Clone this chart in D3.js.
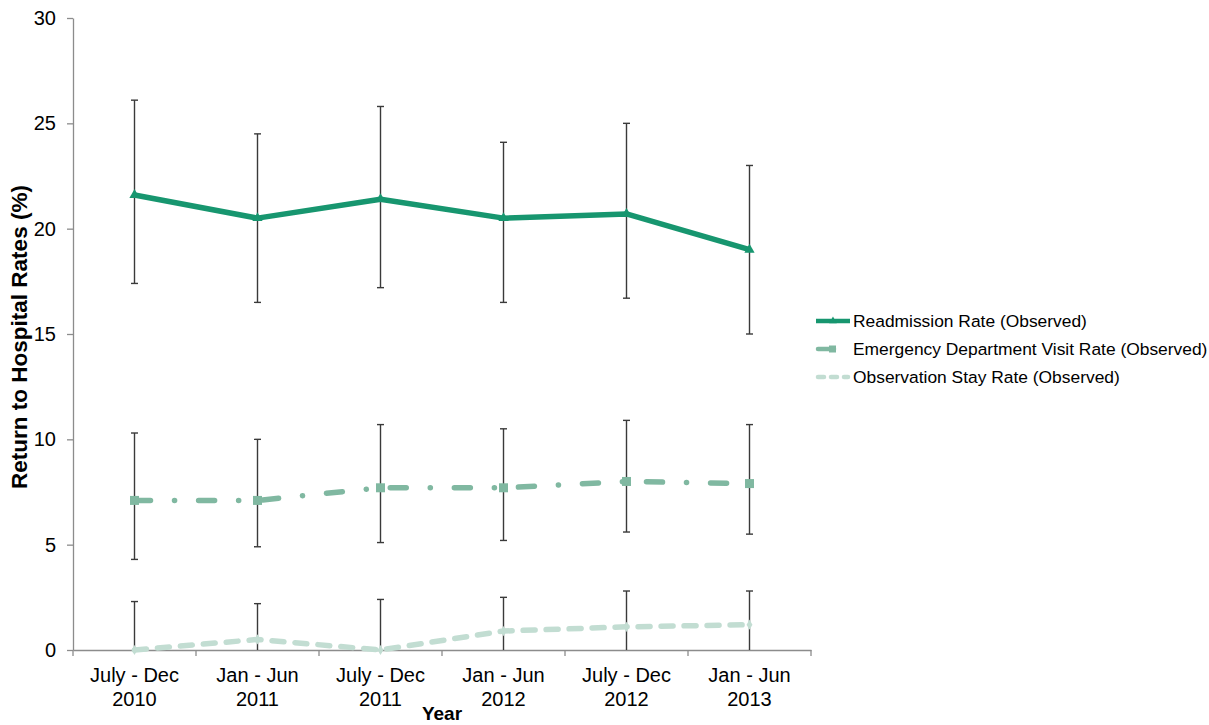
<!DOCTYPE html>
<html><head><meta charset="utf-8">
<script src="https://cdn.jsdelivr.net/npm/d3@7"></script>
<style>body{margin:0;background:#fff;} text{font-family:"Liberation Sans",Arial,sans-serif;}</style>
</head><body>
<svg id="c" width="1209" height="725"></svg>
<script>
const categories = ["July - Dec|2010","Jan - Jun|2011","July - Dec|2011","Jan - Jun|2012","July - Dec|2012","Jan - Jun|2013"];
const readmission = [21.6,20.5,21.4,20.5,20.7,19.0];
const readmissionHi = [26.1,24.5,25.8,24.1,25.0,23.0];
const readmissionLo = [17.4,16.5,17.2,16.5,16.7,15.0];
const edVisit = [7.1,7.1,7.7,7.7,8.0,7.9];
const edHi = [10.3,10.0,10.7,10.5,10.9,10.7];
const edLo = [4.3,4.9,5.1,5.2,5.6,5.5];
const observation = [0.0,0.5,0.0,0.9,1.1,1.2];
const obsHi = [2.3,2.2,2.4,2.5,2.8,2.8];
const obsLo = [0,0,0,0,0,0];
const yTicks = [0,5,10,15,20,25,30];
const seriesNames = ["Readmission Rate (Observed)","Emergency Department Visit Rate (Observed)","Observation Stay Rate (Observed)"];

(function(){
const svg = d3.select("#c");
const mLeft = 73, mRight = 811, mTop = 18, mBottom = 650;
const x = d3.scaleBand().domain(categories).range([mLeft, mRight]);
const y = d3.scaleLinear().domain([0,30]).range([mBottom, mTop]);
const cx = d => x(d) + x.bandwidth()/2;
const axisColor = "#8c8c8c";

// Y axis
const ya = svg.append("g").attr("transform",`translate(${mLeft},0)`)
  .call(d3.axisLeft(y).tickValues(yTicks).tickSize(6).tickSizeOuter(0));
ya.select(".domain").attr("stroke",axisColor).attr("stroke-width",1.3);
ya.selectAll(".tick line").attr("stroke",axisColor).attr("stroke-width",1.3);
ya.selectAll(".tick text").attr("font-size",20).attr("fill","#000").attr("x",-17)
  .attr("font-family","Liberation Sans, Arial, sans-serif");

// X axis
const xa = svg.append("g").attr("transform",`translate(0,${mBottom})`)
  .call(d3.axisBottom(x).tickSize(0).tickFormat(""));
xa.select(".domain").attr("stroke",axisColor).attr("stroke-width",1.3);
const bounds = categories.map(c=>x(c)).concat([mRight]);
svg.append("g").selectAll("line").data(bounds).join("line")
  .attr("x1",d=>d).attr("x2",d=>d).attr("y1",mBottom).attr("y2",mBottom+6)
  .attr("stroke",axisColor).attr("stroke-width",1.3);
const lbl = svg.append("g").selectAll("text").data(categories).join("text")
  .attr("x",d=>cx(d)).attr("y",682).attr("text-anchor","middle")
  .attr("font-size",20).attr("fill","#000");
lbl.each(function(d){
  const parts = d.split("|");
  const t = d3.select(this);
  t.append("tspan").attr("x",cx(d)).attr("dy",0).text(parts[0]);
  t.append("tspan").attr("x",cx(d)).attr("dy",23.5).text(parts[1]);
});

// titles
svg.append("text").attr("x",442).attr("y",720).attr("text-anchor","middle")
  .attr("font-size",19).attr("font-weight","bold").text("Year");
svg.append("text").attr("transform",`translate(27,337) rotate(-90)`)
  .attr("text-anchor","middle").attr("font-size",22.5).attr("font-weight","bold")
  .text("Return to Hospital Rates (%)");

// error bars
function errBars(hi, lo){
  const g = svg.append("g").attr("stroke","#3a3a3a").attr("stroke-width",1.4);
  categories.forEach((c,i)=>{
    g.append("line").attr("x1",cx(c)).attr("x2",cx(c)).attr("y1",y(hi[i])).attr("y2",y(lo[i]));
    g.append("line").attr("x1",cx(c)-3.5).attr("x2",cx(c)+3.5).attr("y1",y(hi[i])).attr("y2",y(hi[i]));
    if (lo[i] > 0) g.append("line").attr("x1",cx(c)-3.5).attr("x2",cx(c)+3.5).attr("y1",y(lo[i])).attr("y2",y(lo[i]));
  });
}
errBars(readmissionHi, readmissionLo);
errBars(edHi, edLo);
errBars(obsHi, obsLo);

const line = d3.line().x((d,i)=>cx(categories[i])).y(d=>y(d));
const colors = ["#17966f","#80b8a1","#c2ddd2"];

svg.append("path").datum(observation).attr("d",line).attr("fill","none")
  .attr("stroke",colors[2]).attr("stroke-width",5.5).attr("stroke-linecap","round")
  .attr("stroke-dasharray","12 11");
svg.append("path").datum(edVisit).attr("d",line).attr("fill","none")
  .attr("stroke",colors[1]).attr("stroke-width",5.5).attr("stroke-linecap","round")
  .attr("stroke-dasharray","16 24 0.1 24");
svg.append("path").datum(readmission).attr("d",line).attr("fill","none")
  .attr("stroke",colors[0]).attr("stroke-width",5.5).attr("stroke-linejoin","round");

svg.append("g").selectAll("path").data(readmission).join("path")
  .attr("transform",(d,i)=>`translate(${cx(categories[i])},${y(d)})`)
  .attr("d",d3.symbol(d3.symbolTriangle,45)()).attr("fill",colors[0]);
svg.append("g").selectAll("rect").data(edVisit).join("rect")
  .attr("x",(d,i)=>cx(categories[i])-4.5).attr("y",d=>y(d)-4.5).attr("width",9).attr("height",9)
  .attr("fill",colors[1]);
svg.append("g").selectAll("path").data(observation).join("path")
  .attr("transform",(d,i)=>`translate(${cx(categories[i])},${y(d)})`)
  .attr("d",d3.symbol(d3.symbolDiamond,30)()).attr("fill",colors[2]);

// legend
const lg = svg.append("g");
const ly = [321,349,377];
lg.append("line").attr("x1",816).attr("x2",850).attr("y1",ly[0]).attr("y2",ly[0])
  .attr("stroke",colors[0]).attr("stroke-width",4.5);
lg.append("path").attr("transform",`translate(833,${ly[0]})`).attr("d",d3.symbol(d3.symbolTriangle,25)()).attr("fill",colors[0]);
lg.append("line").attr("x1",818).attr("x2",834).attr("y1",ly[1]).attr("y2",ly[1])
  .attr("stroke",colors[1]).attr("stroke-width",4.5).attr("stroke-linecap","round");
lg.append("rect").attr("x",829).attr("y",ly[1]-3.5).attr("width",7).attr("height",7).attr("fill",colors[1]);
lg.append("line").attr("x1",818).attr("x2",848).attr("y1",ly[2]).attr("y2",ly[2])
  .attr("stroke",colors[2]).attr("stroke-width",4.5).attr("stroke-linecap","round").attr("stroke-dasharray","6 7");
lg.selectAll("text").data(seriesNames).join("text")
  .attr("x",853).attr("y",(d,i)=>ly[i]+6).attr("font-size",17.4).attr("fill","#000").text(d=>d);
})();
</script>
</body></html>
